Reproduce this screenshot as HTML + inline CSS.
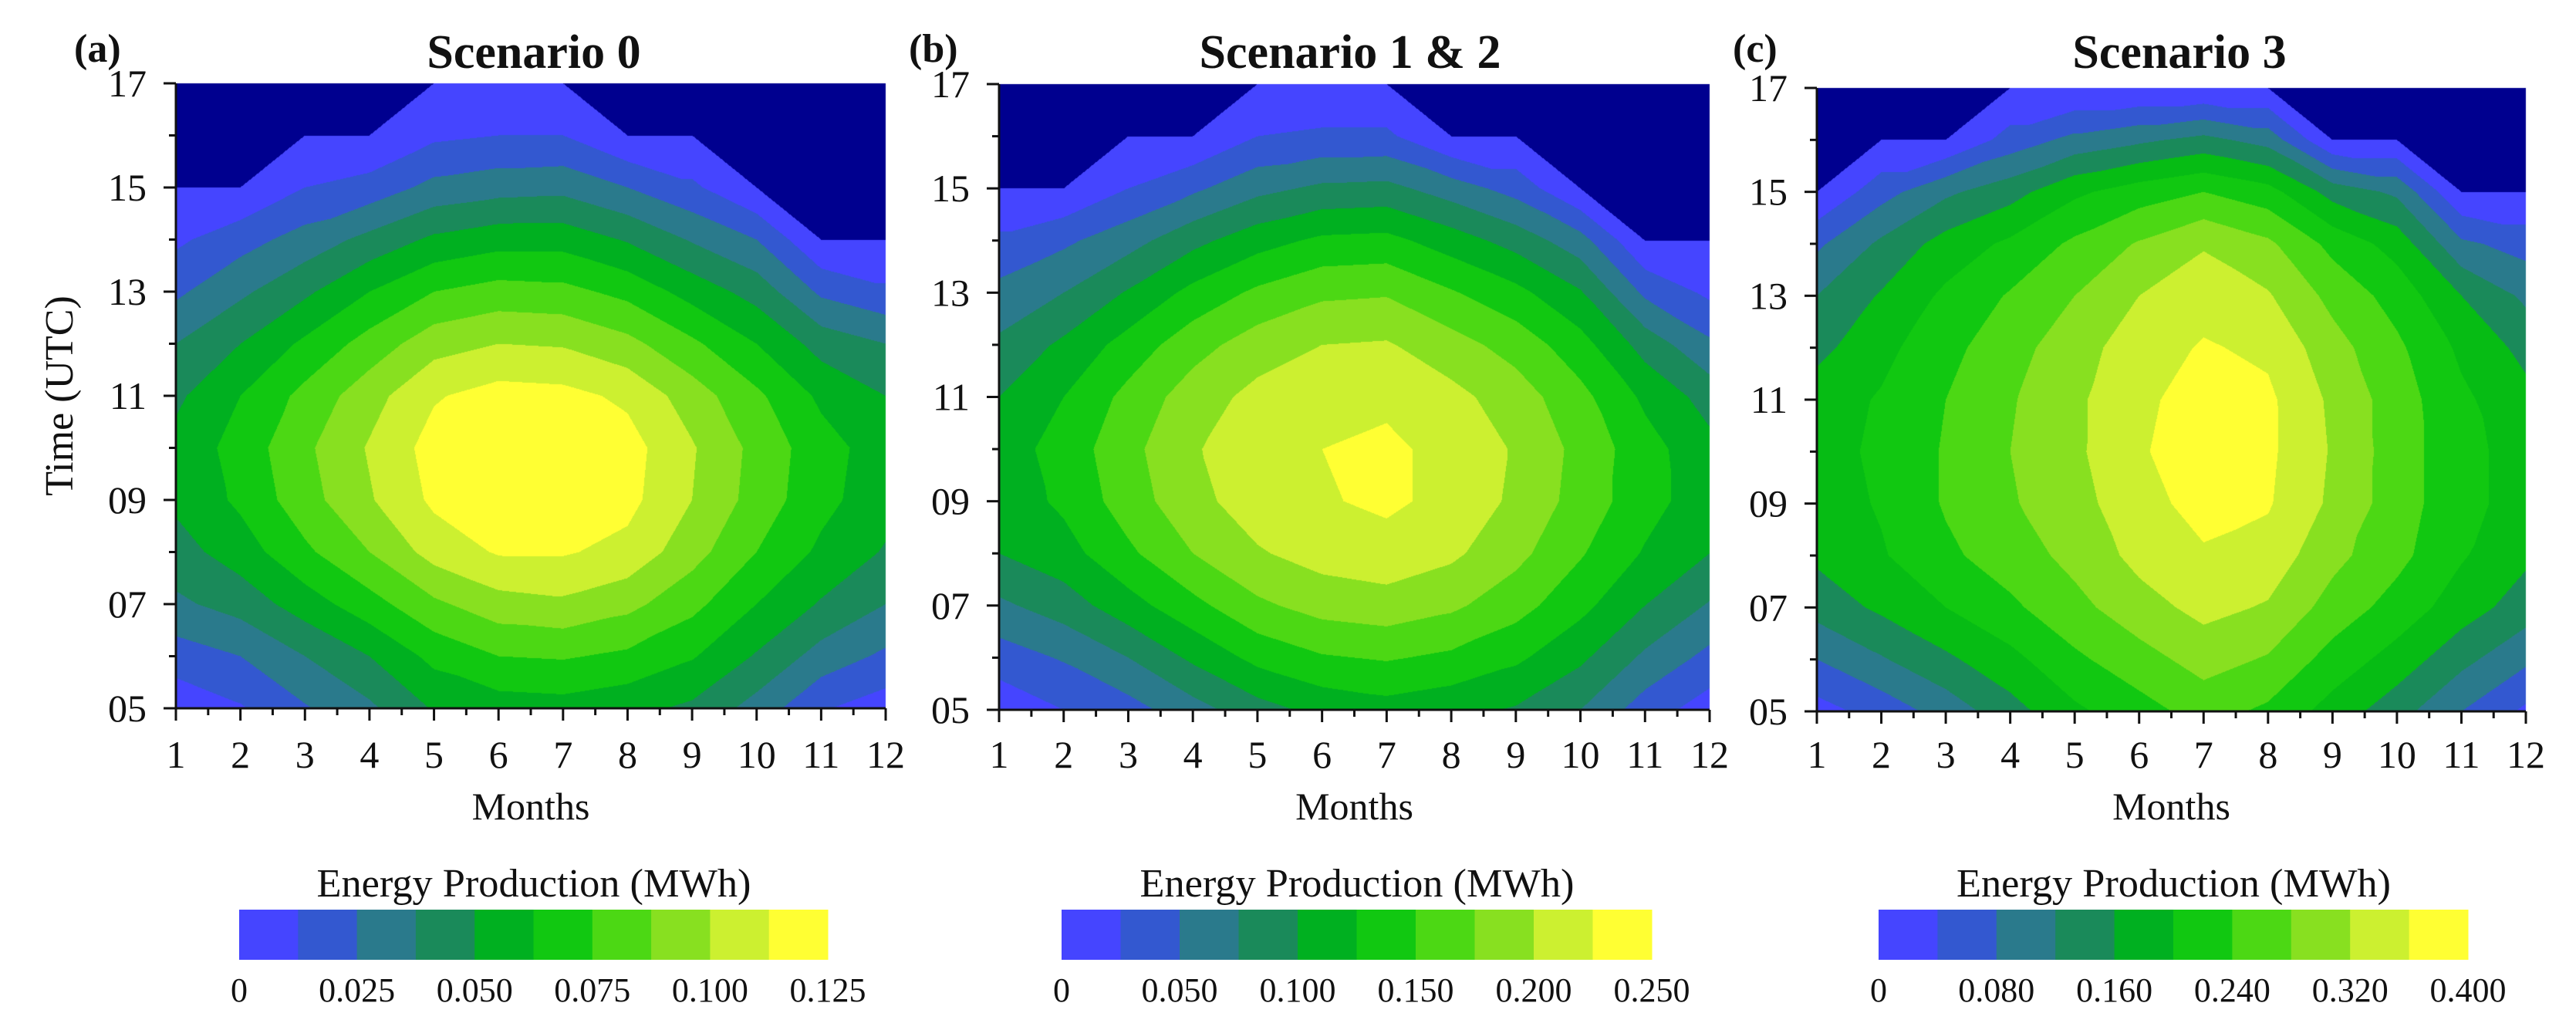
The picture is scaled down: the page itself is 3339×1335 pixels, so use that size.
<!DOCTYPE html>
<html><head><meta charset="utf-8"><style>
html,body{margin:0;padding:0;background:#fff;}
#wrap{position:relative;width:3339px;height:1335px;overflow:hidden;background:#fff;}
canvas,svg{position:absolute;left:0;top:0;}
text{font-family:"Liberation Serif",serif;fill:#111;}
</style></head><body>
<div id="wrap">
<canvas id="cv" width="3339" height="1335"></canvas>
<svg id="sv" width="3339" height="1335"></svg>
</div>
<script>
// ---- data ----
const months = [1,2,3,4,5,6,7,8,9,10,11,12];
const hours = [5,6,7,8,9,10,11,12,13,14,15,16,17];
const yTickLabels = ['05','07','09','11','13','15','17'];
const levelColors = ['#4545ff','#3358d0','#2a7a8c','#1a8a5a','#00b020','#11c811','#4cd814','#88e020','#ccf030','#ffff33'];
const zeroColor = '#00008f';
// per-scenario step (MWh per colour band) and colour-bar labels
const steps = [0.0125, 0.025, 0.04];
const cbLabelsA = ['0','0.025','0.050','0.075','0.100','0.125'];
const cbLabelsB = ['0','0.050','0.100','0.150','0.200','0.250'];
const cbLabelsC = ['0','0.080','0.160','0.240','0.320','0.400'];
// values in band units (x step = MWh); one column per month, hours 05..17
const scenario0 = [
[0.3,1.5,2.8,3.6,4.2,4.3,3.8,3.0,1.8,0.8,0,0,0],
[0.9,2.0,3.4,4.5,5.2,5.4,5.0,4.0,2.8,1.6,0,0,0],
[1.9,3.0,4.5,5.8,6.6,6.8,6.3,5.2,3.8,2.4,1.0,0,0],
[2.8,4.0,5.6,7.0,7.9,8.1,7.6,6.4,5.0,3.3,1.4,0,0],
[4.1,5.3,6.8,8.4,9.2,9.4,8.9,7.6,6.0,4.2,2.3,0.8,0],
[4.5,6.0,7.6,9.1,9.8,9.9,9.4,8.0,6.4,4.6,2.6,1.0,0],
[4.6,6.1,7.8,9.1,9.7,9.8,9.3,7.9,6.3,4.6,2.7,1.0,0],
[4.3,5.8,7.3,8.7,9.3,9.4,8.8,7.3,5.7,3.9,2.0,0,0],
[3.8,5.1,6.3,7.4,8.0,8.1,7.5,6.2,4.6,2.9,1.2,0,0],
[2.6,3.9,5.0,6.0,6.6,6.7,6.2,5.0,3.6,2.0,0,0,0],
[1.1,2.6,3.9,4.8,5.3,5.4,4.8,3.6,1.8,0,0,0,0],
[0.5,1.8,3.0,3.9,4.4,4.5,4.0,3.0,1.2,0,0,0,0]];
const scenario12 = [
[0.3,1.5,2.8,4.0,4.4,4.5,4.0,3.2,2.3,1.2,0,0,0],
[1.0,2.1,3.5,4.6,5.2,5.4,5.0,4.2,3.0,1.8,0,0,0],
[1.6,3.0,4.6,5.8,6.5,6.7,6.3,5.4,4.1,2.6,1.0,0,0],
[2.6,4.2,5.7,7.0,7.7,7.9,7.5,6.6,5.3,3.7,1.8,0,0],
[3.6,5.3,6.8,7.9,8.5,8.6,8.3,7.5,6.2,4.6,2.7,1.0,0],
[4.3,5.9,7.4,8.4,8.9,9.0,8.7,8.0,6.8,5.2,3.2,1.2,0],
[4.6,6.1,7.6,8.6,9.2,9.2,8.8,8.1,6.9,5.3,3.3,1.2,0],
[4.3,5.8,7.2,8.2,8.7,8.7,8.3,7.4,6.1,4.5,2.5,0,0],
[3.9,5.2,6.4,7.3,7.8,7.9,7.5,6.6,5.3,3.6,1.6,0,0],
[3.0,4.2,5.3,6.1,6.6,6.7,6.3,5.4,4.1,2.4,0,0,0],
[1.5,2.8,4.0,4.9,5.4,5.4,4.8,3.6,1.8,0,0,0,0],
[0.5,1.7,2.9,4.0,4.4,4.3,3.6,2.2,0.8,0,0,0,0]];
const scenario3 = [
[0.6,2.0,3.4,4.2,4.5,4.6,4.5,3.7,3.0,1.8,0,0,0],
[1.4,2.9,4.2,4.9,5.1,5.2,5.1,4.7,4.1,3.2,1.6,0,0],
[2.4,3.8,5.0,5.8,6.1,6.1,6.0,5.7,5.2,4.4,2.8,0,0],
[3.6,4.7,5.8,6.5,6.9,7.0,6.9,6.6,6.1,5.2,3.6,1.4,0],
[4.8,5.8,6.7,7.3,7.6,7.8,7.8,7.6,7.0,6.2,4.8,2.3,0],
[5.6,6.6,7.6,8.3,8.7,8.9,8.8,8.5,8.0,7.1,5.5,2.8,0],
[6.4,7.4,8.3,8.9,9.3,9.5,9.4,9.1,8.6,7.9,6.0,3.3,0],
[5.8,6.9,7.9,8.6,9.1,9.2,9.2,8.8,8.1,7.2,5.4,2.6,0],
[4.6,5.6,6.6,7.3,7.8,7.9,7.8,7.4,6.7,5.7,3.6,0,0],
[3.4,4.6,5.6,6.3,6.5,6.5,6.5,6.2,5.6,4.6,2.8,0,0],
[2.0,3.3,4.5,5.1,5.3,5.3,5.2,4.8,4.0,2.2,0,0,0],
[0.8,2.2,3.5,4.2,4.6,4.6,4.3,3.7,2.8,1.6,0,0,0]];

const panels = [
 {id:'a', tag:'(a)', title:'Scenario 0', data:scenario0, step:steps[0], cb:cbLabelsA,
  x0:228,y0:108,x1:1148,y1:918, tagX:96, titleX:692, cbX0:310, cbX1:1073},
 {id:'b', tag:'(b)', title:'Scenario 1 & 2', data:scenario12, step:steps[1], cb:cbLabelsB,
  x0:1295,y0:109,x1:2216,y1:920, tagX:1178, titleX:1750, cbX0:1376, cbX1:2141},
 {id:'c', tag:'(c)', title:'Scenario 3', data:scenario3, step:steps[2], cb:cbLabelsC,
  x0:2355,y0:114,x1:3274,y1:922, tagX:2246, titleX:2825, cbX0:2435, cbX1:3199, fill4:'#06bc14'}
];

const cv = document.getElementById('cv');
const ctx = cv.getContext('2d');
const img = ctx.createImageData(3339,1335);
function hexRgb(h){return [parseInt(h.substr(1,2),16),parseInt(h.substr(3,2),16),parseInt(h.substr(5,2),16)];}
const rgbLevels = levelColors.map(hexRgb), rgbZero = hexRgb(zeroColor);

function valueAt(grid, fx, fy){
  const nx = months.length-1, ny = hours.length-1;
  let i = Math.min(Math.floor(fx), nx-1), j = Math.min(Math.floor(fy), ny-1);
  const u = fx-i, v = fy-j;
  const a = grid[i][j], b = grid[i+1][j], c = grid[i][j+1], d = grid[i+1][j+1];
  if (Math.abs(a-d) <= Math.abs(b-c)) {
    if (u >= v) return a + u*(b-a) + v*(d-b);
    return a + v*(c-a) + u*(d-c);
  } else {
    if (u+v <= 1) return a + u*(b-a) + v*(c-a);
    return d + (1-u)*(c-d) + (1-v)*(b-d);
  }
}

const svg = document.getElementById('sv');
const NS = 'http://www.w3.org/2000/svg';
function mk(tag, attrs, parent){const e=document.createElementNS(NS,tag);for(const k in attrs)e.setAttribute(k,attrs[k]);(parent||svg).appendChild(e);return e;}

panels.forEach(p => {
  const W = p.x1-p.x0, H = p.y1-p.y0;
  const xScale = m => p.x0 + (m-months[0])/(months[months.length-1]-months[0])*W;
  const yScale = h => p.y1 - (h-hours[0])/(hours[hours.length-1]-hours[0])*H;
  const pal = rgbLevels.slice();
  if (p.fill4) pal[4] = hexRgb(p.fill4);
  for (let py = p.y0; py < p.y1; py++) {
    const fy = (p.y1-py-0.5)/H*(hours.length-1);
    for (let px = p.x0; px < p.x1; px++) {
      const fx = (px-p.x0+0.5)/W*(months.length-1);
      const val = valueAt(p.data, fx, fy);
      let col;
      if (val <= 1e-9) col = rgbZero;
      else col = pal[Math.max(0, Math.min(9, Math.floor(val)))];
      const k = (py*3339+px)*4;
      img.data[k]=col[0]; img.data[k+1]=col[1]; img.data[k+2]=col[2]; img.data[k+3]=255;
    }
  }
  const g = mk('g', {});
  
  
  const tg = mk('text', {x:p.tagX, y:80, 'font-size':52, 'font-weight':'bold'}, g);
  tg.textContent = p.tag;
  
  
  const tt = mk('text', {x:p.titleX, y:88, 'font-size':62, 'font-weight':'bold', 'text-anchor':'middle'}, g);
  tt.textContent = p.title;
  
  
  const ax = mk('path', {d:`M${p.x0} ${p.y0}V${p.y1}H${p.x1}`, stroke:'#111', 'stroke-width':3, fill:'none'}, g);
  
  
  months.forEach((m, idx) => {
    const x = xScale(m);
    const t = mk('line', {x1:x, x2:x, y1:p.y1, y2:p.y1+16, stroke:'#111', 'stroke-width':3}, g);
    
    
    if (idx < months.length-1) {
      const xm = xScale(m+0.5);
      const t2 = mk('line', {x1:xm, x2:xm, y1:p.y1, y2:p.y1+9, stroke:'#111', 'stroke-width':3}, g);
      
      
    }
    const l = mk('text', {x:x, y:995, 'font-size':50, 'text-anchor':'middle'}, g);
    l.textContent = String(m);
    
    
  });
  hours.forEach(h => {
    const y = yScale(h);
    const major = (h-hours[0])%2===0;
    const t = mk('line', {x1:p.x0-(major?16:9), x2:p.x0, y1:y, y2:y, stroke:'#111', 'stroke-width':3}, g);
    
    
  });
  yTickLabels.forEach(lbl => {
    const y = yScale(parseInt(lbl,10));
    const l = mk('text', {x:p.x0-38, y:y+17, 'font-size':50, 'text-anchor':'end'}, g);
    l.textContent = lbl;
    
    
  });
  const xt = mk('text', {x:(p.x0+p.x1)/2, y:1062, 'font-size':50, 'text-anchor':'middle'}, g);
  xt.textContent = 'Months';
  
  
  const cbW = (p.cbX1-p.cbX0)/levelColors.length;
  const cx = (p.cbX0+p.cbX1)/2;
  const lt = mk('text', {x:cx-281, y:1162, 'font-size':52, textLength:563, lengthAdjust:'spacingAndGlyphs'}, g);
  lt.textContent = 'Energy Production (MWh)';
  
  
  levelColors.forEach((c, i) => {
    const r = mk('rect', {x:p.cbX0+i*cbW, y:1179, width:cbW+0.5, height:65, fill:c}, g);
    
    
  });
  p.cb.forEach((lbl, i) => {
    const l = mk('text', {x:p.cbX0+i*2*cbW, y:1298, 'font-size':44, 'text-anchor':'middle'}, g);
    l.textContent = lbl;
    
    
  });
});
ctx.putImageData(img,0,0);
const yt = mk('text', {x:0, y:0, 'font-size':52, 'text-anchor':'middle', transform:'translate(94,513) rotate(-90)'});
yt.textContent = 'Time (UTC)';


</script>
</body></html>
